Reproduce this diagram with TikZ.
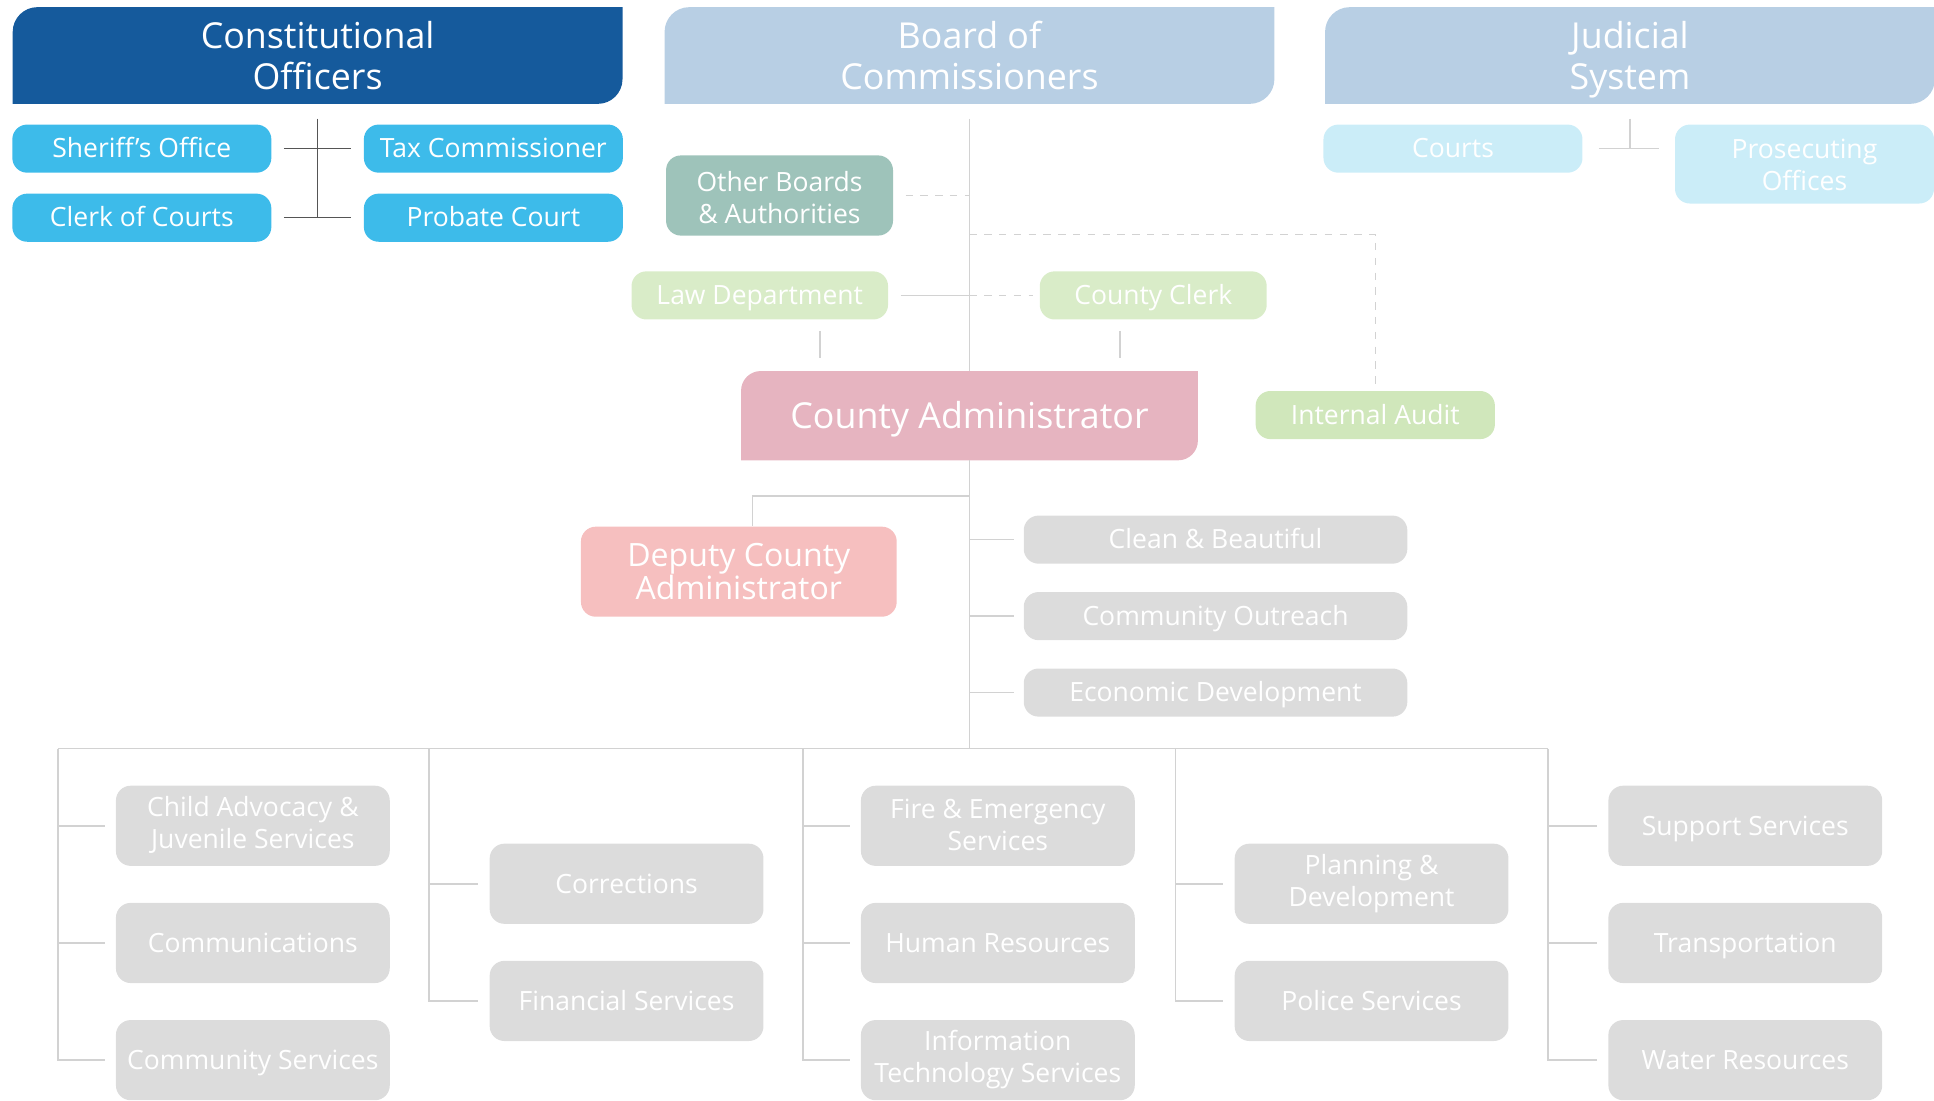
\documentclass[tikz,border=0pt]{standalone}
\usepackage{fontspec}
\setmainfont{Open Sans}
\usetikzlibrary{backgrounds}

\definecolor{constblue}{HTML}{155A9C}
\definecolor{headblue}{HTML}{B8CFE4}
\definecolor{officeblue}{HTML}{3DBBEA}
\definecolor{courtblue}{HTML}{CBEDF8}
\definecolor{boardteal}{HTML}{9EC3BA}
\definecolor{staffgreen}{HTML}{D9ECC8}
\definecolor{auditgreen}{HTML}{D0E7BB}
\definecolor{adminpink}{HTML}{E6B4C0}
\definecolor{deputypink}{HTML}{F6BFBF}
\definecolor{deptgrey}{HTML}{DCDCDC}
\definecolor{linegrey}{HTML}{D2D2D2}
\definecolor{darkline}{HTML}{555555}

% invisible prop so every line of text sits the same way in its box
\newcommand\lineprop{\rule[-0.28em]{0pt}{1.26em}}
% taller first line, pushes two line texts a little down
\newcommand\lift[1]{\rule{0pt}{#1}}

% leaf shaped fill: top left and bottom right corners rounded
\newcommand\leaf[3]{%
  \fill[#2] (#1.south west) -- ([yshift=-#3]#1.north west)
    arc[start angle=180, end angle=90, radius=#3] -- (#1.north east)
    -- ([yshift=#3]#1.south east)
    arc[start angle=0, end angle=-90, radius=#3] -- cycle;}

\begin{document}
\begin{tikzpicture}[x=1pt,y=1pt,
  txt/.style={text=white, align=center, inner sep=0pt,
    execute at begin node=\lineprop, execute at end node=\lineprop},
  head/.style={txt, minimum width=494pt, minimum height=78pt, font=\fontsize{29}{33}\selectfont},
  office/.style={txt, fill=#1, rounded corners=12pt, minimum height=39pt, font=\fontsize{21.5}{26}\selectfont},
  dept/.style={txt, fill=deptgrey, rounded corners=12pt, minimum width=222pt, minimum height=65pt, font=\fontsize{21.5}{26}\selectfont},
  link/.style={draw=linegrey, line width=1.2pt},
  darklink/.style={draw=darkline, line width=1.2pt},
  dashlink/.style={link, dash pattern=on 6pt off 6pt}]

\useasboundingbox (0,0) rectangle (1568,-892);

%the three heads
\node[head] (const) at (257.5,-45) {\lift{30pt}Constitutional\\Officers};
\node[head] (board) at (786,-45) {\lift{30pt}Board of\\Commissioners};
\node[head] (judicial) at (1321.5,-45) {\lift{30pt}Judicial\\System};

%constitutional officers
\node[office=officeblue, minimum width=210pt] (sheriff) at (115,-120.5) {Sheriff's Office};
\node[office=officeblue, minimum width=210pt] (tax) at (400,-120.5) {Tax Commissioner};
\node[office=officeblue, minimum width=210pt] (clerk) at (115,-176.5) {Clerk of Courts};
\node[office=officeblue, minimum width=210pt] (probate) at (400,-176.5) {Probate Court};

%judicial system
\node[office=courtblue, minimum width=210pt] (courts) at (1178,-120.5) {Courts};
\node[office=courtblue, minimum width=210pt, minimum height=64pt] (prosec) at (1463,-133) {\lift{23pt}Prosecuting\\Offices};

%board staff
\node[office=boardteal, minimum width=184pt, minimum height=65pt] (other) at (632,-158.5) {\lift{26pt}Other Boards\\\& Authorities};
\node[office=staffgreen, minimum width=208pt] (law) at (616,-239.5) {Law Department};
\node[office=staffgreen, minimum width=184pt] (countyclerk) at (935,-239.5) {County Clerk};
\node[office=auditgreen, minimum width=194pt] (audit) at (1115,-336.5) {Internal Audit};

%administrator
\node[txt, minimum width=370pt, minimum height=72pt, font=\fontsize{29}{33}\selectfont] (admin) at (786,-337) {County Administrator};
\node[office=deputypink, minimum width=256pt, minimum height=73pt, font=\fontsize{26}{27}\selectfont] (deputy) at (599,-463.5) {\lift{26pt}Deputy County\\Administrator};

\node[office=deptgrey, minimum width=311pt] (clean) at (985.5,-437.5) {Clean \& Beautiful};
\node[office=deptgrey, minimum width=311pt] (outreach) at (985.5,-499.5) {Community Outreach};
\node[office=deptgrey, minimum width=311pt] (econ) at (985.5,-561.5) {Economic Development};

%departments
\foreach \name/\x/\y/\label in {
    child/205/669.5/{Child Advocacy \&\\Juvenile Services},
    comms/205/764.5/Communications,
    comserv/205/859.5/Community Services,
    correct/508/716.5/Corrections,
    finance/508/811.5/Financial Services,
    fire/809/669.5/{\lift{20pt}Fire \& Emergency\\Services},
    human/809/764.5/Human Resources,
    infotech/809/859.5/{Information\\Technology Services},
    planning/1112/716.5/{Planning \&\\Development},
    police/1112/811.5/Police Services,
    support/1415/669.5/Support Services,
    transport/1415/764.5/Transportation,
    water/1415/859.5/Water Resources}{
    \node[dept] (\name) at (\x,-\y) {\label};
}

%leaf shaped backgrounds
\begin{pgfonlayer}{background}
\leaf{const}{constblue}{20pt}
\leaf{board}{headblue}{20pt}
\leaf{judicial}{headblue}{20pt}
\leaf{admin}{adminpink}{16pt}
\end{pgfonlayer}

%constitutional connectors
\draw[darklink] ([yshift=-12]const.south) -- (const.south |- clerk.east);
\draw[darklink] ([xshift=10]sheriff.east) -- ([xshift=-10]tax.west);
\draw[darklink] ([xshift=10]clerk.east) -- ([xshift=-10]probate.west);

%judicial connectors
\draw[link] ([yshift=-12]judicial.south) -- (judicial.south |- courts.east);
\draw[link] ([xshift=13]courts.east) -- ([xshift=-13]prosec.west |- courts.east);

%board connectors
\coordinate (auditbend) at (1115,-190);
\draw[link] ([yshift=-12]board.south) -- (admin.north);
\draw[dashlink] ([xshift=10]other.east) -- (other.east -| board.south);
\draw[link] ([xshift=10]law.east) -- (law.east -| board.south);
\draw[dashlink] (law.east -| board.south) -- ([xshift=-5]countyclerk.west);
\draw[dashlink] (auditbend -| board.south) -- (auditbend) -- ([yshift=2]audit.north);
\draw[link] ([xshift=49,yshift=-9]law.south) -- ++(0,-22);
\draw[link] ([xshift=-27,yshift=-9]countyclerk.south) -- ++(0,-22);

%administrator connectors
\coordinate (dep) at (610,-402);
\coordinate (col1) at (47,-607);
\coordinate (col2) at (348,-607);
\coordinate (col3) at (651,-607);
\coordinate (col4) at (953,-607);
\coordinate (col5) at (1255,-607);
\draw[link] (admin.south) -- (admin.south |- col1);
\draw[link] (dep -| admin.south) -- (dep) -- (deputy.north -| dep);
\foreach \n in {clean,outreach,econ}
    \draw[link] (admin.south |- \n.west) -- ([xshift=-8]\n.west);
\draw[link] (col1) -- (col5);

%department connectors
\draw[link] (col1) |- ([xshift=-9]comserv.west);
\draw[link] (col3) |- ([xshift=-9]infotech.west);
\draw[link] (col5) |- ([xshift=-9]water.west);
\draw[link] (col2) |- ([xshift=-9]finance.west);
\draw[link] (col4) |- ([xshift=-9]police.west);
\foreach \n/\c in {child/col1,comms/col1,fire/col3,human/col3,support/col5,transport/col5,correct/col2,planning/col4}
    \draw[link] (\c |- \n.west) -- ([xshift=-9]\n.west);

\end{tikzpicture}
\end{document}
